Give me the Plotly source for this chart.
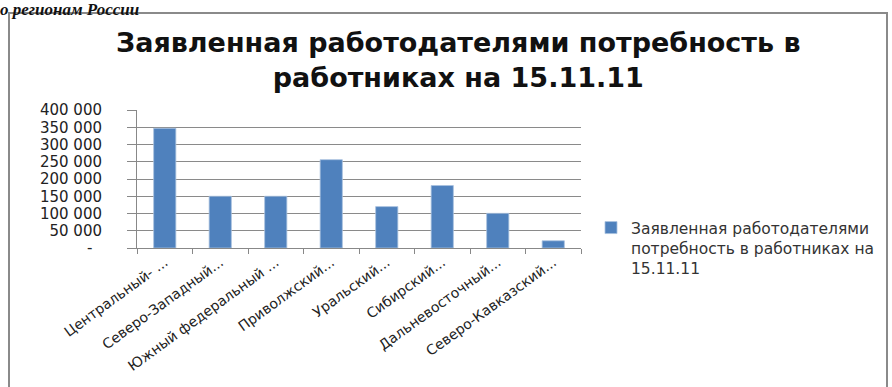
import plotly.graph_objects as go

categories = ["Центральный- ...", "Северо-Западный...", "Южный федеральный ...", "Приволжский...",
              "Уральский...", "Сибирский...", "Дальневосточный...", "Северо-Кавказский..."]
values = [347000, 150000, 150000, 256000, 120000, 181000, 100500, 21000]
tick_vals = [0, 50000, 100000, 150000, 200000, 250000, 300000, 350000, 400000]
tick_text = ["-\u00a0\u00a0", "50 000", "100 000", "150 000", "200 000", "250 000", "300 000", "350 000", "400 000"]
series_name = "Заявленная работодателями<br>потребность в работниках на<br>15.11.11"
title_text = "Заявленная работодателями потребность в<br>работниках на 15.11.11"
doc_text = "о регионам России"

W, H = 892, 387
L, R, T, B = 137, 581, 110, 248
def px(x): return (x - L) / (R - L)
def py(y): return (B - y) / (B - T)

fig = go.Figure()
fig.add_trace(go.Bar(
    x=categories, y=values, name=series_name,
    marker=dict(color="#4F81BD", line=dict(color="#A9C1DF", width=0.8)),
    showlegend=True,
))

fig.update_layout(
    width=W, height=H,
    margin=dict(l=L, r=W - R, t=T, b=H - B, autoexpand=False),
    paper_bgcolor="white", plot_bgcolor="white",
    bargap=0.6,
    font=dict(family="DejaVu Sans", color="#222"),
    legend=dict(x=px(591), y=py(211), xanchor="left", yanchor="top",
                font=dict(family="DejaVu Sans", size=15.5, color="#333"),
                valign="top", itemwidth=30, tracegroupgap=0),
    showlegend=True,
)
fig.update_xaxes(
    type="category", tickson="boundaries", ticks="outside", ticklen=5,
    tickcolor="#888", showline=True, linecolor="#888", linewidth=1,
    tickangle=-36, tickfont=dict(family="DejaVu Sans", size=14, color="#222"),
    showgrid=False,
)
fig.update_yaxes(
    range=[0, 400000], tickvals=tick_vals, ticktext=tick_text,
    ticks="outside", ticklen=9, tickcolor="#888",
    showline=True, linecolor="#888", linewidth=1,
    showgrid=True, gridcolor="#8a8a8a", gridwidth=1,
    tickfont=dict(family="DejaVu Sans", size=15, color="#222"),
    ticklabelstandoff=22, zeroline=False,
)

fig.add_shape(type="rect", xref="paper", yref="paper",
              x0=px(9), x1=px(887), y0=py(400), y1=py(13),
              line=dict(color="#8a8a8a", width=2), fillcolor="rgba(0,0,0,0)", layer="below")

fig.add_annotation(xref="paper", yref="paper", x=px(458), y=py(60), xanchor="center", yanchor="middle",
                   text="<b>" + title_text + "</b>", showarrow=False,
                   font=dict(family="DejaVu Sans", size=27, color="#111"))

fig.add_annotation(xref="paper", yref="paper", x=px(-2), y=py(-2), xanchor="left", yanchor="top",
                   text="<b><i>" + doc_text + "</i></b>", showarrow=False,
                   font=dict(family="Liberation Serif", size=17, color="#111"))

fig.write_html("out.html")
